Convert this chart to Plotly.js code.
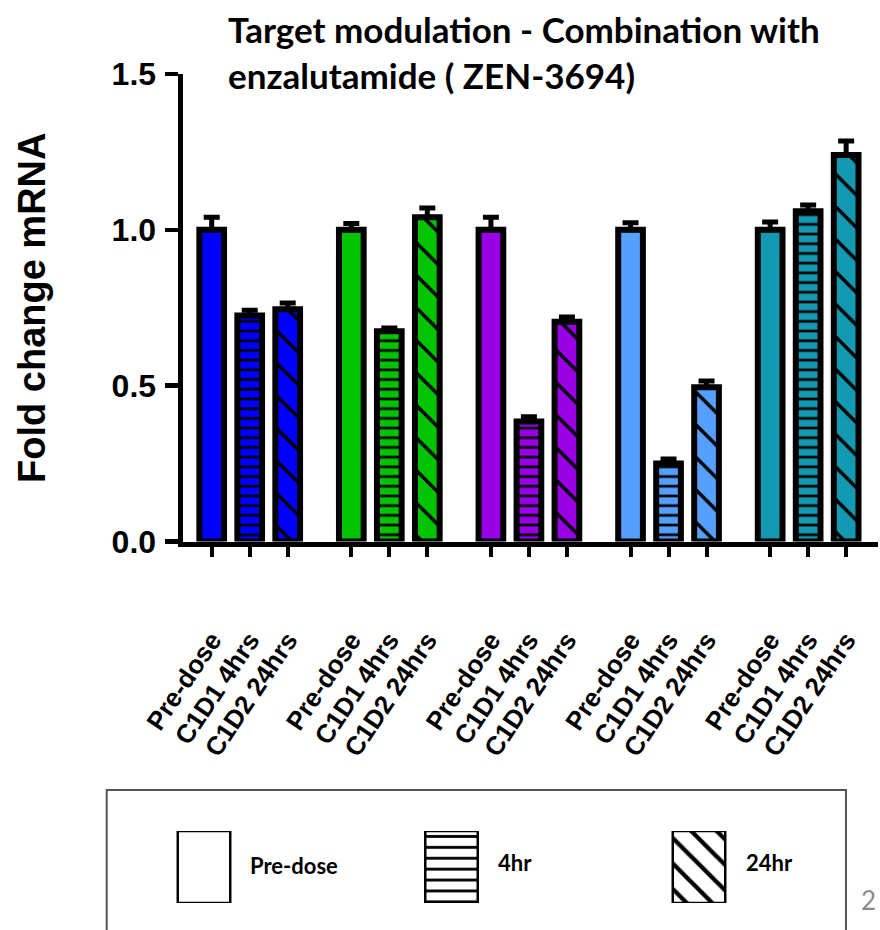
<!DOCTYPE html>
<html><head><meta charset="utf-8">
<script src="https://cdn.plot.ly/plotly-3.0.1.min.js"></script>
<style>html,body{margin:0;padding:0;background:#fff;} #chart{width:880px;height:930px;}</style>
</head><body><div id="chart"></div>
<script>
// ---- data ----
const timepoints = ['Pre-dose', 'C1D1 4hrs', 'C1D2 24hrs'];
const groupColors = ['#0000FF', '#00C400', '#9A00E6', '#55A0FF', '#1399B2'];
const preDose    = [1.00, 1.00, 1.00, 1.00, 1.00];
const hr4        = [0.725, 0.675, 0.385, 0.25, 1.06];
const hr24       = [0.745, 1.04, 0.705, 0.495, 1.24];
const preDoseErr = [0.04, 0.02, 0.04, 0.023, 0.025];
const hr4Err     = [0.017, 0.01, 0.015, 0.015, 0.02];
const hr24Err    = [0.02, 0.03, 0.015, 0.02, 0.045];
const legendLabels = ['Pre-dose', '4hr', '24hr'];
const yTicks = [0, 0.5, 1.0, 1.5];
const yTickText = ['0.0', '0.5', '1.0', '1.5'];

// ---- layout helpers (pixels -> paper, margins are zero) ----
const W = 880, H = 930;
const px = v => v / W;
const py = v => 1 - v / H;
const GROUP_STRIDE = 3.674;   // group spacing in bar-slot units
const SLOT_PX = 38;
const FIRST_TICK_PX = 211.7;
const PLOT_L = 182.5, PLOT_R = 878, PLOT_T = 74, PLOT_B = 541.5;

const patternShapes = ['', '-', '\\'];
const patternSizes = [10, 9.7, 23];
const patternSolidity = [0.01, 0.28, 0.15];

const traces = [];
const allX = [], allText = [];
groupColors.forEach((color, g) => {
  const xs = timepoints.map((_, t) => g * GROUP_STRIDE + t);
  xs.forEach((x, t) => { allX.push(x); allText.push(timepoints[t]); });
  traces.push({
    type: 'bar', x: xs, y: [preDose[g], hr4[g], hr24[g]], width: 0.65,
    marker: {color: color, line: {color: '#000', width: 6},
      pattern: {shape: patternShapes, fgcolor: '#000', bgcolor: color, fillmode: 'replace', fgopacity: 1,
                size: patternSizes, solidity: patternSolidity}},
    error_y: {type: 'data', symmetric: false, array: [preDoseErr[g], hr4Err[g], hr24Err[g]],
              arrayminus: timepoints.map(() => 0), color: '#000', thickness: 5, width: 8},
    hoverinfo: 'skip', xaxis: 'x', yaxis: 'y'
  });
});

// legend swatches drawn on a hidden axis pair
traces.push({
  type: 'bar', x: legendLabels.map((_, i) => i), y: legendLabels.map(() => 1), width: 0.212,
  xaxis: 'x2', yaxis: 'y2', hoverinfo: 'skip',
  marker: {color: '#fff', line: {color: '#000', width: 2.5},
    pattern: {shape: patternShapes, fgcolor: '#000', bgcolor: '#fff', fillmode: 'replace', fgopacity: 1,
              size: [10, 10.9, 18], solidity: [0.01, 0.26, 0.24]}}
});

const layout = {
  width: W, height: H, margin: {l: 0, r: 0, t: 0, b: 0},
  paper_bgcolor: '#fff', plot_bgcolor: 'rgba(0,0,0,0)',
  showlegend: false, barmode: 'overlay',
  title: {
    text: 'Target modulation - Combination with<br>enzalutamide ( ZEN-3694)',
    font: {family: 'Lato, "Open Sans", sans-serif', size: 35, weight: 700, color: '#000'},
    x: px(228), xanchor: 'left', xref: 'paper', y: py(43), yanchor: 'top', yref: 'container'
  },
  xaxis: {
    domain: [px(PLOT_L), px(PLOT_R)],
    range: [(PLOT_L - FIRST_TICK_PX) / SLOT_PX, (PLOT_R - FIRST_TICK_PX) / SLOT_PX],
    tickmode: 'array', tickvals: allX, ticktext: allText, tickangle: -56,
    ticks: 'outside', ticklen: 10, tickwidth: 4, tickcolor: '#000',
    showline: true, linewidth: 5, linecolor: '#000', showgrid: false, zeroline: false,
    tickfont: {family: '"Liberation Sans", Arial, sans-serif', size: 26, weight: 700, color: '#000'},
    ticklabelstandoff: 58, anchor: 'y', fixedrange: true
  },
  yaxis: {
    domain: [py(PLOT_B), py(PLOT_T)], range: [0, 1.5],
    tickmode: 'array', tickvals: yTicks, ticktext: yTickText,
    ticks: 'outside', ticklen: 13, tickwidth: 4.5, tickcolor: '#000',
    showline: true, linewidth: 5, linecolor: '#000', showgrid: false, zeroline: false,
    tickfont: {family: '"Liberation Sans", Arial, sans-serif', size: 32, weight: 700, color: '#000'},
    ticklabelstandoff: 2,
    title: {text: 'Fold change mRNA', standoff: 56,
            font: {family: '"Liberation Sans", Arial, sans-serif', size: 38, weight: 700, color: '#000'}},
    anchor: 'x', fixedrange: true
  },
  xaxis2: {domain: [px(80.25), px(822.75)], range: [-0.5, 2.5], visible: false, anchor: 'y2', fixedrange: true},
  yaxis2: {domain: [py(903), py(831)], range: [0, 1], visible: false, anchor: 'x2', fixedrange: true},
  shapes: [
    {type: 'rect', xref: 'paper', yref: 'paper', x0: px(106.7), x1: px(846), y0: py(790), y1: py(940),
     line: {color: '#555', width: 2}, fillcolor: 'rgba(0,0,0,0)', layer: 'below'}
  ],
  annotations: [
    {text: legendLabels[0], x: px(248), y: py(865), xref: 'paper', yref: 'paper', xanchor: 'left', yanchor: 'middle', showarrow: false,
     font: {family: 'Lato, sans-serif', size: 22, weight: 700, color: '#000'}},
    {text: legendLabels[1], x: px(496), y: py(862), xref: 'paper', yref: 'paper', xanchor: 'left', yanchor: 'middle', showarrow: false,
     font: {family: 'Lato, sans-serif', size: 22, weight: 700, color: '#000'}},
    {text: legendLabels[2], x: px(744), y: py(862), xref: 'paper', yref: 'paper', xanchor: 'left', yanchor: 'middle', showarrow: false,
     font: {family: 'Lato, sans-serif', size: 22, weight: 700, color: '#000'}},
    {text: '2', x: px(878), y: py(900), xref: 'paper', yref: 'paper', xanchor: 'right', yanchor: 'middle', showarrow: false,
     font: {family: 'Lato, sans-serif', size: 26, color: '#8a8a8a'}}
  ]
};

Plotly.newPlot('chart', traces, layout, {staticPlot: true, displayModeBar: false});
</script>
</body></html>
